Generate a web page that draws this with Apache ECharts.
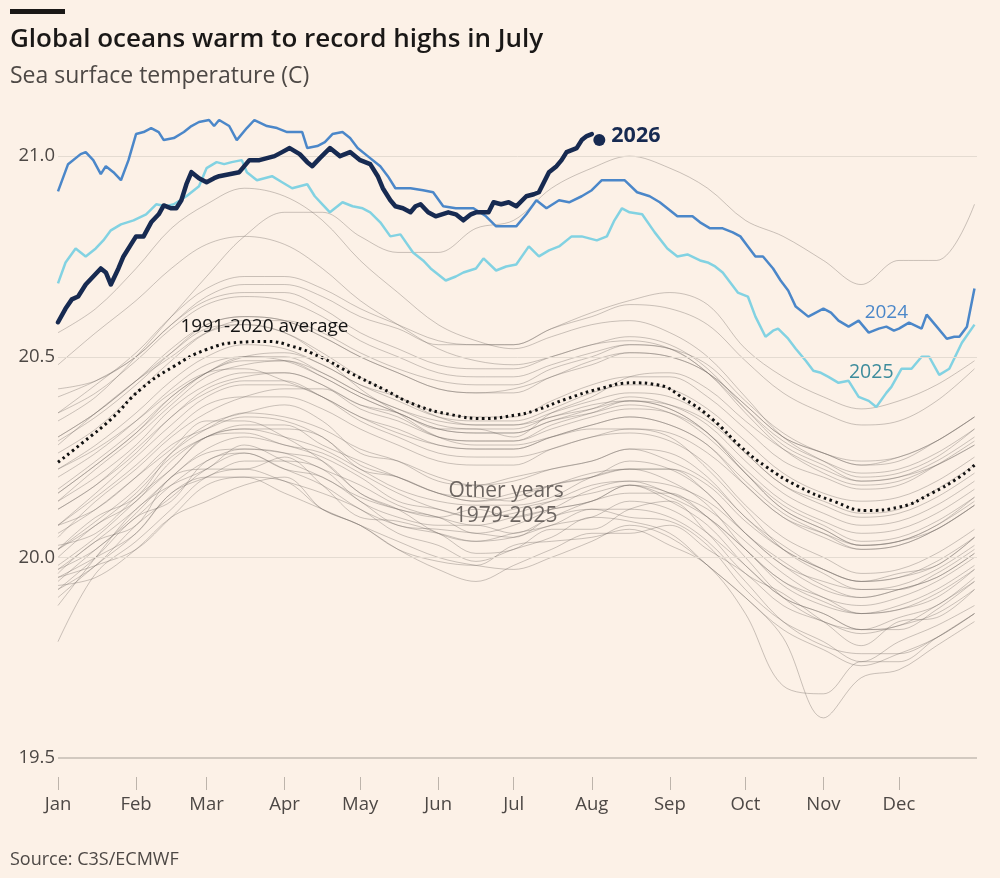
<!DOCTYPE html>
<html>
<head>
<meta charset="utf-8">
<title>Global oceans warm to record highs in July</title>
<script src="https://cdn.jsdelivr.net/npm/echarts@6.0.0/dist/echarts.min.js"></script>
<style>
  html, body { margin: 0; padding: 0; background: #fcf1e7; }
  #chart { width: 1000px; height: 878px; }
</style>
</head>
<body>
<div id="chart"></div>
<script>
// month ticks (day of year)
const monthStarts = [0, 31, 59, 90, 120, 151, 181, 212, 243, 273, 304, 334];
const monthNames = ['Jan', 'Feb', 'Mar', 'Apr', 'May', 'Jun', 'Jul', 'Aug', 'Sep', 'Oct', 'Nov', 'Dec'];
const yTicks = [19.5, 20.0, 20.5, 21.0];

// grey lines are sampled every ~15 days
const sampleDays = [0, 15, 31, 45, 59, 74, 90, 105, 120, 135, 151, 166, 181, 196, 212, 227, 243, 258, 273, 288, 304, 319, 334, 349, 364];

const otherYearNames = [1979, 1980, 1981, 1982, 1983, 1984, 1985, 1986, 1987, 1988, 1989, 1990, 1991, 1992, 1993, 1994, 1995, 1996,
  1997, 1998, 1999, 2000, 2001, 2002, 2003, 2004, 2005, 2006, 2007, 2008, 2009, 2010, 2011, 2012, 2013, 2014,
  2015, 2016, 2017, 2018, 2019, 2020, 2021, 2022, 2023];

const otherYearValues = [
  [19.96,20.04,20.08,20.20,20.22,20.22,20.25,20.18,20.10,20.09,20.06,20.01,20.02,20.07,20.07,20.12,20.14,20.06,19.96,19.91,19.84,19.78,19.84,19.85,19.92],
  [19.92,20.00,20.10,20.14,20.24,20.26,20.22,20.20,20.14,20.08,20.07,20.06,20.05,20.10,20.12,20.10,20.09,20.03,19.92,19.84,19.79,19.74,19.79,19.83,19.88],
  [19.93,19.95,20.02,20.10,20.14,20.18,20.20,20.12,20.08,20.02,19.99,19.98,20.03,20.04,20.05,20.07,20.03,19.98,19.86,19.68,19.66,19.74,19.74,19.80,19.86],
  [19.79,19.96,20.04,20.12,20.20,20.22,20.19,20.16,20.12,20.06,20.03,19.99,20.02,20.05,20.10,20.09,20.06,19.98,19.90,19.80,19.60,19.70,19.72,19.78,19.84],
  [19.88,20.00,20.12,20.18,20.22,20.28,20.24,20.20,20.15,20.12,20.10,20.12,20.10,20.12,20.14,20.18,20.16,20.10,20.00,19.90,19.84,19.82,19.85,19.88,19.95],
  [19.95,20.00,20.06,20.16,20.20,20.20,20.16,20.12,20.08,20.04,20.00,19.98,19.97,20.00,20.04,20.08,20.05,19.98,19.90,19.82,19.77,19.73,19.76,19.80,19.86],
  [19.95,19.98,20.02,20.10,20.18,20.20,20.19,20.12,20.08,20.02,19.97,19.94,19.98,20.02,20.06,20.06,20.08,20.02,19.96,19.88,19.84,19.81,19.83,19.86,19.92],
  [19.94,20.02,20.10,20.18,20.24,20.27,20.26,20.24,20.16,20.12,20.10,20.06,20.08,20.12,20.17,20.19,20.16,20.12,20.04,19.96,19.90,19.88,19.90,19.94,20.00],
  [20.02,20.10,20.15,20.26,20.33,20.36,20.38,20.34,20.26,20.24,20.20,20.18,20.20,20.22,20.24,20.27,20.26,20.20,20.10,20.03,19.97,19.94,19.96,19.98,20.05],
  [20.06,20.12,20.20,20.27,20.34,20.34,20.30,20.24,20.16,20.12,20.06,20.04,20.06,20.08,20.12,20.12,20.10,20.04,19.94,19.84,19.78,19.76,19.76,19.80,19.86],
  [19.90,19.98,20.06,20.16,20.20,20.24,20.24,20.22,20.14,20.10,20.08,20.08,20.06,20.10,20.14,20.16,20.16,20.10,20.02,19.94,19.90,19.86,19.88,19.92,19.98],
  [20.00,20.08,20.14,20.24,20.30,20.32,20.32,20.30,20.22,20.20,20.16,20.14,20.15,20.18,20.20,20.24,20.22,20.16,20.06,19.98,19.92,19.90,19.92,19.95,20.01],
  [20.03,20.06,20.15,20.22,20.30,20.31,20.28,20.26,20.21,20.16,20.12,20.10,20.12,20.14,20.16,20.18,20.14,20.08,19.98,19.90,19.86,19.82,19.82,19.87,19.94],
  [19.92,19.98,20.08,20.15,20.22,20.26,20.22,20.18,20.12,20.08,20.06,20.04,20.05,20.08,20.10,20.14,20.12,20.06,19.98,19.90,19.86,19.82,19.83,19.88,19.94],
  [19.97,20.02,20.11,20.20,20.26,20.27,20.26,20.22,20.18,20.13,20.10,20.08,20.10,20.12,20.14,20.18,20.15,20.10,20.02,19.93,19.88,19.86,19.87,19.90,19.97],
  [19.98,20.05,20.14,20.22,20.30,20.32,20.30,20.27,20.22,20.17,20.14,20.13,20.13,20.15,20.20,20.22,20.22,20.18,20.09,20.02,19.97,19.94,19.95,19.98,20.05],
  [20.08,20.12,20.20,20.28,20.32,20.35,20.34,20.30,20.23,20.20,20.16,20.15,20.14,20.18,20.20,20.22,20.19,20.13,20.02,19.94,19.89,19.86,19.87,19.91,19.97],
  [19.97,20.04,20.12,20.20,20.27,20.30,20.28,20.25,20.20,20.14,20.12,20.10,20.11,20.14,20.18,20.19,20.18,20.14,20.06,19.98,19.94,19.92,19.93,19.97,20.03],
  [20.05,20.14,20.22,20.30,20.36,20.40,20.42,20.42,20.38,20.36,20.32,20.32,20.30,20.36,20.40,20.45,20.46,20.42,20.34,20.27,20.22,20.19,20.20,20.23,20.28],
  [20.28,20.36,20.44,20.50,20.56,20.58,20.56,20.50,20.42,20.36,20.30,20.28,20.28,20.30,20.32,20.32,20.30,20.22,20.12,20.02,19.96,19.92,19.92,19.96,20.02],
  [20.02,20.08,20.16,20.25,20.30,20.33,20.33,20.28,20.24,20.20,20.16,20.14,20.16,20.18,20.21,20.22,20.22,20.16,20.06,19.99,19.93,19.90,19.92,19.95,20.01],
  [20.02,20.09,20.17,20.26,20.32,20.36,20.35,20.32,20.27,20.24,20.19,20.18,20.19,20.22,20.24,20.27,20.24,20.19,20.10,20.02,19.97,19.94,19.95,19.99,20.05],
  [20.08,20.16,20.25,20.33,20.40,20.43,20.43,20.40,20.35,20.32,20.28,20.27,20.27,20.30,20.33,20.35,20.33,20.28,20.18,20.10,20.05,20.02,20.03,20.07,20.13],
  [20.14,20.22,20.30,20.38,20.45,20.48,20.49,20.45,20.40,20.36,20.32,20.31,20.31,20.34,20.37,20.40,20.38,20.33,20.24,20.16,20.11,20.08,20.09,20.13,20.19],
  [20.20,20.26,20.34,20.42,20.48,20.50,20.49,20.45,20.40,20.36,20.32,20.31,20.31,20.34,20.36,20.38,20.36,20.30,20.21,20.13,20.08,20.04,20.05,20.09,20.15],
  [20.14,20.20,20.28,20.37,20.43,20.46,20.46,20.43,20.37,20.34,20.30,20.29,20.29,20.32,20.35,20.37,20.36,20.31,20.22,20.14,20.09,20.06,20.07,20.11,20.17],
  [20.17,20.24,20.32,20.40,20.46,20.50,20.50,20.46,20.41,20.37,20.33,20.32,20.32,20.35,20.37,20.39,20.37,20.31,20.21,20.12,20.07,20.03,20.04,20.08,20.14],
  [20.12,20.18,20.27,20.35,20.42,20.45,20.46,20.43,20.38,20.35,20.30,20.29,20.29,20.33,20.36,20.39,20.38,20.34,20.26,20.18,20.14,20.11,20.12,20.17,20.23],
  [20.22,20.27,20.34,20.41,20.46,20.47,20.44,20.40,20.34,20.30,20.26,20.25,20.25,20.27,20.30,20.31,20.29,20.23,20.13,20.05,20.00,19.96,19.97,20.01,20.07],
  [20.08,20.15,20.23,20.31,20.38,20.40,20.40,20.37,20.32,20.28,20.24,20.23,20.23,20.27,20.30,20.32,20.31,20.26,20.18,20.10,20.06,20.03,20.04,20.08,20.15],
  [20.16,20.23,20.31,20.40,20.46,20.50,20.51,20.48,20.43,20.40,20.36,20.35,20.35,20.39,20.43,20.45,20.45,20.40,20.32,20.24,20.20,20.17,20.18,20.23,20.29],
  [20.30,20.36,20.44,20.51,20.57,20.58,20.56,20.51,20.45,20.40,20.35,20.33,20.33,20.35,20.38,20.39,20.37,20.31,20.21,20.12,20.07,20.03,20.04,20.07,20.13],
  [20.12,20.18,20.26,20.35,20.41,20.44,20.44,20.40,20.35,20.31,20.28,20.27,20.27,20.30,20.33,20.35,20.33,20.28,20.19,20.11,20.06,20.02,20.03,20.07,20.13],
  [20.16,20.23,20.31,20.39,20.46,20.49,20.49,20.46,20.41,20.37,20.34,20.33,20.33,20.36,20.39,20.41,20.40,20.35,20.26,20.18,20.13,20.10,20.11,20.15,20.21],
  [20.22,20.28,20.36,20.44,20.50,20.53,20.52,20.48,20.43,20.39,20.35,20.34,20.34,20.37,20.41,20.43,20.42,20.37,20.29,20.21,20.16,20.14,20.15,20.19,20.25],
  [20.26,20.32,20.41,20.49,20.56,20.59,20.59,20.56,20.51,20.47,20.44,20.43,20.43,20.47,20.50,20.53,20.52,20.48,20.39,20.31,20.26,20.24,20.25,20.29,20.35],
  [20.42,20.44,20.50,20.58,20.65,20.68,20.68,20.65,20.60,20.57,20.53,20.53,20.53,20.57,20.61,20.64,20.66,20.63,20.52,20.45,20.40,20.37,20.39,20.43,20.49],
  [20.56,20.62,20.72,20.82,20.88,20.92,20.90,20.84,20.74,20.66,20.58,20.54,20.52,20.55,20.58,20.59,20.56,20.50,20.40,20.30,20.24,20.20,20.21,20.25,20.32],
  [20.40,20.44,20.50,20.58,20.64,20.66,20.66,20.62,20.56,20.52,20.48,20.47,20.47,20.50,20.53,20.55,20.53,20.47,20.37,20.28,20.23,20.19,20.20,20.24,20.30],
  [20.30,20.36,20.44,20.52,20.58,20.60,20.59,20.55,20.50,20.46,20.42,20.41,20.41,20.45,20.48,20.51,20.50,20.46,20.38,20.30,20.26,20.23,20.24,20.29,20.35],
  [20.36,20.43,20.51,20.60,20.67,20.70,20.70,20.67,20.62,20.58,20.54,20.53,20.53,20.57,20.60,20.63,20.62,20.58,20.49,20.41,20.36,20.33,20.34,20.39,20.47],
  [20.48,20.56,20.64,20.72,20.78,20.80,20.78,20.72,20.64,20.58,20.52,20.49,20.48,20.50,20.53,20.54,20.52,20.46,20.36,20.27,20.21,20.18,20.19,20.23,20.28],
  [20.29,20.35,20.43,20.51,20.58,20.60,20.59,20.55,20.50,20.46,20.42,20.41,20.42,20.45,20.49,20.51,20.50,20.46,20.38,20.30,20.26,20.23,20.25,20.29,20.35],
  [20.36,20.41,20.49,20.57,20.63,20.65,20.64,20.60,20.54,20.50,20.46,20.45,20.45,20.48,20.51,20.53,20.52,20.46,20.37,20.29,20.24,20.21,20.22,20.26,20.32],
  [20.34,20.40,20.50,20.60,20.70,20.80,20.86,20.86,20.80,20.76,20.76,20.82,20.84,20.92,20.97,21.00,20.97,20.92,20.84,20.80,20.74,20.68,20.74,20.74,20.88]
];

// 1991-2020 average [day, C]
const averageLine = [[0,20.237],[10,20.287],[21,20.344],[33,20.42],[46,20.476],[59,20.518],[72,20.536],[83,20.538],
  [93,20.526],[104,20.50],[116,20.46],[129,20.42],[142,20.38],[156,20.356],[169,20.346],[182,20.355],[189,20.365],
  [202,20.395],[215,20.42],[228,20.435],[238,20.43],[249,20.394],[260,20.344],[271,20.277],[281,20.227],[294,20.177],
  [308,20.14],[321,20.117],[334,20.125],[347,20.16],[358,20.20],[364,20.23]];

const line2024 = [[0,20.912],[4,20.98],[9,21.005],[11,21.01],[14,20.99],[17,20.955],[19,20.975],[22,20.96],[25,20.94],
  [28,20.99],[31,21.055],[34,21.06],[37,21.07],[40,21.06],[42,21.04],[46,21.045],[50,21.06],[53,21.075],[56,21.085],
  [60,21.09],[62,21.075],[64,21.09],[68,21.075],[71,21.04],[75,21.07],[78,21.09],[83,21.075],[87,21.07],[91,21.06],
  [97,21.06],[99,21.02],[103,21.025],[106,21.035],[109,21.055],[113,21.06],[116,21.045],[119,21.02],[123,21.0],
  [128,20.975],[131,20.95],[134,20.92],[140,20.92],[145,20.915],[149,20.91],[153,20.875],[158,20.87],[165,20.87],
  [170,20.85],[174,20.825],[182,20.825],[186,20.855],[190,20.89],[194,20.87],[199,20.89],[203,20.885],[208,20.90],
  [212,20.915],[216,20.94],[220,20.94],[225,20.94],[230,20.91],[235,20.90],[239,20.885],[242,20.87],[246,20.85],
  [252,20.85],[255,20.835],[259,20.82],[264,20.82],[268,20.81],[271,20.80],[274,20.775],[277,20.75],[280,20.75],
  [284,20.72],[287,20.69],[290,20.665],[293,20.625],[298,20.60],[304,20.62],[307,20.61],[310,20.59],[314,20.575],
  [318,20.59],[322,20.56],[326,20.57],[329,20.575],[332,20.565],[334,20.57],[338,20.585],[343,20.57],[345,20.605],
  [349,20.575],[353,20.545],[356,20.55],[358,20.55],[361,20.575],[364,20.67]];

const line2025 = [[0,20.683],[3,20.735],[7,20.77],[11,20.75],[15,20.77],[18,20.79],[21,20.815],[25,20.83],[30,20.84],
  [35,20.855],[39,20.88],[43,20.875],[46,20.88],[51,20.90],[56,20.925],[59,20.97],[63,20.985],[66,20.98],[69,20.985],
  [73,20.99],[75,20.96],[79,20.94],[82,20.945],[85,20.95],[89,20.935],[93,20.92],[96,20.925],[99,20.93],[102,20.90],
  [105,20.88],[108,20.86],[113,20.885],[117,20.875],[121,20.87],[124,20.86],[128,20.835],[132,20.80],[136,20.805],
  [141,20.76],[145,20.74],[148,20.72],[151,20.705],[154,20.69],[158,20.70],[161,20.71],[166,20.72],[169,20.745],
  [174,20.715],[178,20.725],[182,20.73],[187,20.775],[191,20.75],[195,20.765],[199,20.775],[204,20.80],[208,20.80],
  [211,20.795],[214,20.79],[218,20.80],[221,20.84],[224,20.87],[227,20.86],[232,20.855],[237,20.81],[242,20.77],
  [246,20.75],[250,20.755],[255,20.74],[258,20.735],[261,20.725],[264,20.71],[270,20.66],[274,20.65],[277,20.60],
  [281,20.55],[284,20.565],[286,20.57],[290,20.545],[293,20.52],[297,20.49],[300,20.465],[303,20.46],[306,20.45],
  [310,20.435],[314,20.44],[318,20.40],[322,20.39],[325,20.375],[329,20.41],[331,20.425],[335,20.47],[339,20.47],
  [343,20.50],[346,20.50],[350,20.455],[354,20.47],[359,20.535],[364,20.58]];

const line2026 = [[0,20.586],[3,20.62],[5.5,20.643],[8,20.65],[11,20.68],[14,20.70],[17,20.72],[19,20.71],[21,20.68],
  [24,20.72],[26,20.75],[29,20.78],[31,20.80],[34,20.80],[37,20.835],[40,20.855],[42,20.877],[45,20.87],[47,20.87],
  [49,20.89],[51,20.93],[53,20.96],[56,20.945],[59,20.935],[62,20.945],[64,20.95],[68,20.955],[72,20.96],[74,20.975],
  [76,20.99],[80,20.99],[83,20.995],[86,21.0],[89,21.01],[92,21.02],[96,21.005],[99,20.985],[101,20.975],[104,20.995],
  [108,21.02],[112,21.0],[116,21.01],[120,20.99],[124,20.98],[127,20.95],[129,20.92],[132,20.89],[134,20.875],
  [137,20.87],[140,20.86],[142,20.875],[144,20.88],[147,20.86],[150,20.85],[155,20.86],[158,20.855],[161,20.84],
  [164,20.855],[166,20.86],[169,20.86],[171,20.86],[173,20.885],[176,20.88],[179,20.885],[182,20.875],[186,20.90],
  [189,20.905],[191,20.91],[193,20.935],[195,20.96],[198,20.975],[200,20.99],[202,21.01],[204,21.015],[206,21.02],
  [208,21.04],[210,21.05],[212,21.055]];
const latest2026 = [215, 21.04];

const FONT = '"Open Sans", "Noto Sans", sans-serif';
const TEXT = '#4d4845';
const NAVY = '#172a51';
const BLUE = '#4b87c9';
const CYAN = '#82d2e2';

const chart = echarts.init(document.getElementById('chart'));

const series = [];

// horizontal gridlines drawn on the value scale
series.push({
  name: 'grid',
  type: 'line',
  data: [],
  silent: true,
  z: 0,
  markLine: {
    silent: true,
    symbol: 'none',
    label: { show: false },
    data: yTicks.map(function (v) {
      return {
        yAxis: v,
        lineStyle: { type: 'solid', color: v === yTicks[0] ? '#d2c9c0' : '#e4dbd1', width: v === yTicks[0] ? 2 : 1 }
      };
    })
  }
});

otherYearValues.forEach(function (vals, k) {
  series.push({
    name: String(otherYearNames[k]),
    type: 'line',
    data: vals.map(function (v, i) { return [sampleDays[i], v]; }),
    smooth: 0.35,
    showSymbol: false,
    silent: true,
    z: 1,
    lineStyle: { color: 'rgba(112,102,96,0.36)', width: 1 }
  });
});

// label helper: markPoint with invisible symbol
function textMark(coord, text, style) {
  return {
    coord: coord,
    symbolSize: 0,
    label: Object.assign({ show: true, position: 'inside', formatter: text, fontFamily: FONT }, style)
  };
}

series.push({
  name: '1991-2020 average',
  type: 'line',
  data: averageLine,
  smooth: true,
  showSymbol: false,
  silent: true,
  z: 3,
  lineStyle: { color: '#111', width: 3, type: [2.5, 3.5] },
  markPoint: {
    silent: true,
    symbol: 'circle',
    data: [
      textMark([82, 20.575], '1991-2020 average', { fontSize: 19, color: '#141414' }),
      textMark([178, 20.135], 'Other years\n1979-2025', { fontSize: 21, color: '#6b6460', lineHeight: 25 })
    ]
  }
});

series.push({
  name: '2025',
  type: 'line',
  data: line2025,
  showSymbol: false,
  silent: true,
  z: 4,
  lineStyle: { color: CYAN, width: 2.5 },
  markPoint: {
    silent: true,
    symbol: 'circle',
    data: [textMark([323, 20.461], '2025', { fontSize: 19.5, color: '#3d8c9c' })]
  }
});

series.push({
  name: '2024',
  type: 'line',
  data: line2024,
  showSymbol: false,
  silent: true,
  z: 5,
  lineStyle: { color: BLUE, width: 2.5 },
  markPoint: {
    silent: true,
    symbol: 'circle',
    data: [textMark([329, 20.61], '2024', { fontSize: 19, color: BLUE })]
  }
});

series.push({
  name: '2026',
  type: 'line',
  data: line2026,
  showSymbol: false,
  silent: true,
  z: 6,
  lineStyle: { color: NAVY, width: 4.5, join: 'round', cap: 'round' }
});

series.push({
  name: '2026 latest',
  type: 'scatter',
  data: [latest2026],
  symbolSize: 12,
  silent: true,
  z: 7,
  itemStyle: { color: NAVY, opacity: 1 },
  label: {
    show: true, position: 'right', distance: 6, offset: [0, -4], formatter: '2026',
    fontFamily: FONT, fontSize: 21.5, fontWeight: 'bold', color: NAVY, opacity: 1
  }
});

// axis sits 19px below the 19.5 line, so the scale runs a little below 19.5
const pxPerDegree = 401.3;
const yMin = yTicks[0] - 19 / pxPerDegree;

const option = {
  backgroundColor: '#fcf1e7',
  animation: false,
  grid: { left: 58, right: 23, top: 116, bottom: 101, containLabel: false },
  xAxis: {
    type: 'value',
    min: 0,
    max: 365,
    axisLine: { show: false },
    axisTick: { show: true, customValues: monthStarts, length: 13, lineStyle: { color: '#bdb4ab', width: 1 } },
    axisLabel: {
      customValues: monthStarts,
      formatter: function (v) { return monthNames[monthStarts.indexOf(v)]; },
      fontFamily: FONT, fontSize: 18.5, color: TEXT, margin: 18
    },
    splitLine: { show: false }
  },
  yAxis: {
    type: 'value',
    min: yMin,
    max: 21.1,
    axisLine: { show: false },
    axisTick: { show: false },
    axisLabel: {
      customValues: yTicks,
      formatter: function (v) { return v.toFixed(1); },
      fontFamily: FONT, fontSize: 18.5, color: TEXT, margin: 3
    },
    splitLine: { show: false }
  },
  graphic: [
    { type: 'rect', left: 10, top: 9, shape: { width: 55, height: 5 }, style: { fill: '#1a1817' } },
    { type: 'text', left: 10, top: 27, style: { text: 'Global oceans warm to record highs in July', fontFamily: FONT, fontSize: 26, fontWeight: 600, fill: '#1a1817' } },
    { type: 'text', left: 10, top: 65, style: { text: 'Sea surface temperature (C)', fontFamily: FONT, fontSize: 23, fill: TEXT } },
    { type: 'text', left: 10, top: 851, style: { text: 'Source: C3S/ECMWF', fontFamily: FONT, fontSize: 18, fill: TEXT } }
  ],
  series: series
};

chart.setOption(option);
window.onresize = function () { chart.resize(); };
</script>
</body>
</html>
